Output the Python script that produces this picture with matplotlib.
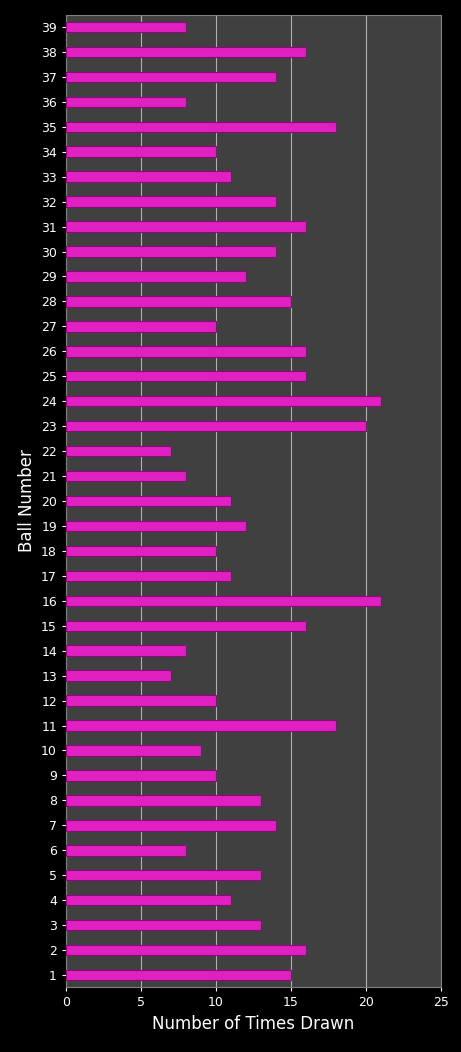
import numpy as np
import matplotlib.pyplot as plt

balls = list(range(1, 40))
times_drawn = [15, 16, 13, 11, 13, 8, 14, 13, 10, 9,
               18, 10, 7, 8, 16, 21, 11, 10, 12, 11,
               8, 7, 20, 21, 16, 16, 10, 15, 12, 14,
               16, 14, 11, 10, 18, 8, 14, 16, 8]

fig = plt.figure(figsize=(4.61, 10.52), dpi=100, facecolor="black")
ax = fig.add_axes([66 / 461, 1 - 987 / 1052, 375 / 461, 972 / 1052])
ax.set_facecolor("#404040")

ax.barh(balls, times_drawn, height=0.42, color="#e020c0",
        edgecolor="#8a0a78", linewidth=0.8, zorder=3)

ax.set_xlim(0, 25)
ax.set_ylim(0.52, 39.48)
ax.set_xticks(range(0, 26, 5))
ax.set_yticks(balls)
ax.grid(axis="x", color="#b0b0b0", linewidth=0.8, zorder=0)
ax.tick_params(colors="white", labelsize=9, length=3)
for s in ax.spines.values():
    s.set_color("#808080")

ax.set_xlabel("Number of Times Drawn", color="white", fontsize=12)
ax.set_ylabel("Ball Number", color="white", fontsize=12)

fig.savefig("out.png", dpi=100, facecolor="black")
